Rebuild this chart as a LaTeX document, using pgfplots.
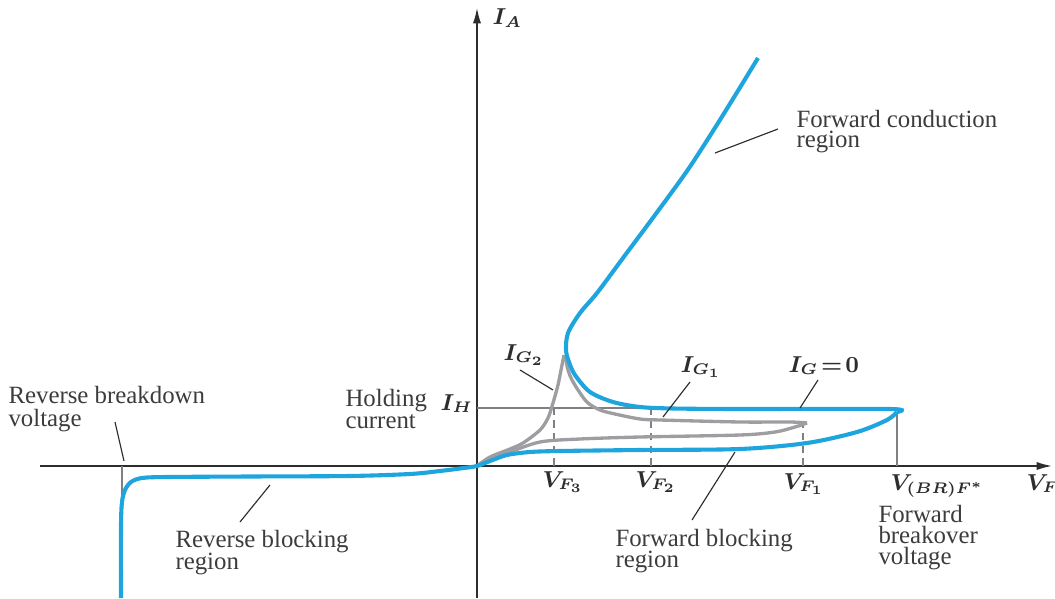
\documentclass[border=0pt]{standalone}
\usepackage{pgfplots}
\pgfplotsset{compat=1.18}
\usepackage{fontspec}
\setmainfont{Liberation Serif}
\usetikzlibrary{arrows.meta}
\definecolor{scrblue}{RGB}{30,165,222}
\definecolor{scrgray}{RGB}{158,158,162}
\definecolor{txt}{RGB}{60,60,60}
\definecolor{axc}{RGB}{45,45,45}
\tikzset{lab/.style={text=txt,font=\fontsize{9.7}{10}\selectfont,anchor=base west,inner sep=0pt},
  mlab/.style={text=axc,font=\fontsize{9}{10}\selectfont\boldmath,anchor=base west,inner sep=0pt}}
\begin{document}
\begin{tikzpicture}
\useasboundingbox (0,0) rectangle (412pt,233.53pt);
\begin{axis}[at={(0,0)},anchor=south west,scale only axis,
  width=412pt,height=233.53pt,
  xmin=-477,xmax=578,ymin=-132,ymax=466,
  hide axis,clip=false,
  every axis plot/.append style={no marks}]

% axes
\addplot[axc,line width=0.6pt,-{Latex[length=6pt,width=3.2pt]}] coordinates {(-437,0) (575,0)};
\addplot[axc,line width=0.6pt,-{Latex[length=6pt,width=3.2pt]}] coordinates {(0,-132) (0,458)};

% thin reference lines
\addplot[gray,line width=0.4pt] coordinates {(0,58) (190,58)};
\addplot[gray,line width=0.4pt] coordinates {(420,0) (420,54)};
\addplot[gray,line width=0.4pt] coordinates {(-355,0) (-355,-30)};
\addplot[gray,line width=0.4pt,dash pattern=on 3pt off 2pt] coordinates {(77,0) (77,58)};
\addplot[gray,line width=0.4pt,dash pattern=on 3pt off 2pt] coordinates {(174,0) (174,56)};
\addplot[gray,line width=0.4pt,dash pattern=on 3pt off 2pt] coordinates {(326,0) (326,41)};

% gray gate curves
\addplot[scrgray,line width=1.3pt,smooth] coordinates {(0,0) (13,8) (30,13) (63,24) (103,27) (163,29) (263,31) (298,34) (318,39) (330,43)};
\addplot[scrgray,line width=1.3pt,smooth] coordinates {(330,43) (313,44) (263,44) (183,46) (163,47) (138,52) (123,56) (111,63) (103,73) (95,86) (91,96) (88,110)};
\addplot[scrgray,line width=1.3pt,smooth] coordinates {(0,0) (13,9) (33,17) (46,23) (63,36) (71,48) (76,63) (81,81) (84,96) (87,111)};

% blue I_G = 0 curve
\addplot[scrblue,line width=1.6pt,smooth] coordinates {(-356,-132) (-356,-60) (-355,-36) (-352,-24) (-346,-16) (-335,-12) (-310,-11) (-227,-10.5) (-127,-10) (-67,-8) (-37,-5) (-17,-2.5) (0,0) (13,5) (30,11) (53,14) (83,15) (163,16) (263,17) (330,23) (380,34) (410,46) (420,54)};
\addplot[scrblue,line width=1.6pt,smooth] coordinates {(420,54) (413,57) (263,57) (196,57.5) (163,59) (136,64) (113,74) (98,91) (92,104) (89,116) (91,133) (103,153) (120,173) (146,208) (178,251) (210,295) (236,335) (259,372) (281,408)};

% leader lines
\addplot[axc,line width=0.45pt] coordinates {(-362,44) (-353,5)};
\addplot[axc,line width=0.45pt] coordinates {(-207,-19) (-237,-56)};
\addplot[axc,line width=0.45pt] coordinates {(43,96) (76,76)};
\addplot[axc,line width=0.45pt] coordinates {(213,84) (186,49)};
\addplot[axc,line width=0.45pt] coordinates {(341,86) (323,58)};
\addplot[axc,line width=0.45pt] coordinates {(238,313) (301,337)};
\addplot[axc,line width=0.45pt] coordinates {(258,14) (215,-54)};

% text labels
\node[lab] at (axis cs:-469,63) {Reverse breakdown};
\node[lab] at (axis cs:-469,40) {voltage};
\node[lab] at (axis cs:-132,60) {Holding};
\node[lab] at (axis cs:-132,38) {current};
\node[lab] at (axis cs:-302,-81) {Reverse blocking};
\node[lab] at (axis cs:-302,-103) {region};
\node[lab] at (axis cs:138,-80) {Forward blocking};
\node[lab] at (axis cs:138,-101) {region};
\node[lab] at (axis cs:319,339) {Forward conduction};
\node[lab] at (axis cs:319,318) {region};
\node[lab] at (axis cs:401,-56) {Forward};
\node[lab] at (axis cs:401,-77) {breakover};
\node[lab] at (axis cs:401,-98) {voltage};

% math labels
\node[mlab] at (axis cs:15,441) {$I_A$};
\node[mlab] at (axis cs:26,106) {$I_{G_2}$};
\node[mlab] at (axis cs:203,94) {$I_{G_1}$};
\node[mlab] at (axis cs:311,94) {$I_G\!=\!0$};
\node[mlab] at (axis cs:-37,56) {$I_H$};
\node[mlab] at (axis cs:65,-21) {$V_{F_3}$};
\node[mlab] at (axis cs:158,-21) {$V_{F_2}$};
\node[mlab] at (axis cs:306,-23) {$V_{F_1}$};
\node[mlab] at (axis cs:413,-24) {$V_{(BR)F^*}$};
\node[mlab] at (axis cs:549,-24) {$V_F$};
\end{axis}
\end{tikzpicture}
\end{document}
